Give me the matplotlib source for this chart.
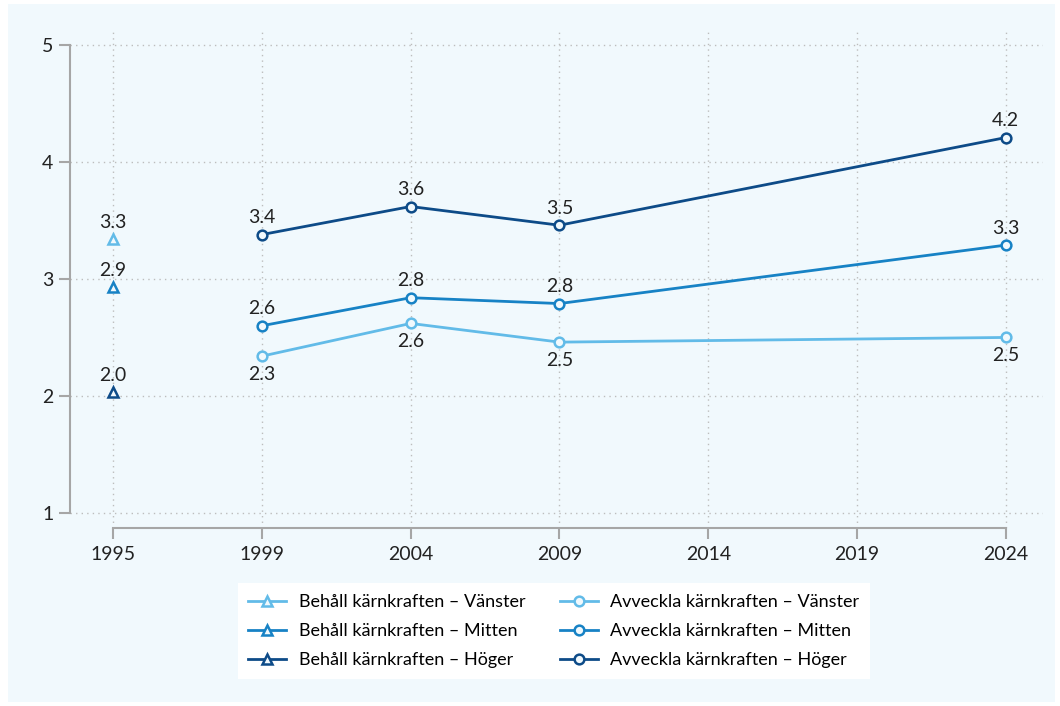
import matplotlib
matplotlib.use("Agg")
import matplotlib.pyplot as plt
from matplotlib.patches import Rectangle

years = ["1995", "1999", "2004", "2009", "2014", "2019", "2024"]

# Behåll kärnkraften: only 1995
keep_pos = [0]
keep_vanster = [3.34]
keep_mitten = [2.93]
keep_hoger = [2.03]

# Avveckla kärnkraften: 1999, 2004, 2009, 2024
phase_pos = [1, 2, 3, 6]
phase_vanster = [2.34, 2.62, 2.46, 2.50]
phase_mitten = [2.60, 2.84, 2.79, 3.29]
phase_hoger = [3.38, 3.62, 3.46, 4.21]

C_V = "#62bbe8"
C_M = "#1782c5"
C_H = "#0d4b88"
BG = "#f1f9fd"

plt.rcParams["font.family"] = ["Lato", "DejaVu Sans"]
FS = 14

fig = plt.figure(figsize=(10.6, 7.06), dpi=100, facecolor="white")
fig.patches.append(Rectangle((8 / 1060, 4 / 706), 1047 / 1060, 698 / 706,
                             transform=fig.transFigure, facecolor=BG,
                             edgecolor="none", zorder=-10))
ax = fig.add_axes([70 / 1060, 1 - 528 / 706, 973 / 1060, 498 / 706])
ax.set_facecolor("none")

series = [
    (keep_pos, keep_vanster, C_V, "^", "Behåll kärnkraften – Vänster", "above"),
    (keep_pos, keep_mitten, C_M, "^", "Behåll kärnkraften – Mitten", "above"),
    (keep_pos, keep_hoger, C_H, "^", "Behåll kärnkraften – Höger", "above"),
    (phase_pos, phase_vanster, C_V, "o", "Avveckla kärnkraften – Vänster", "below"),
    (phase_pos, phase_mitten, C_M, "o", "Avveckla kärnkraften – Mitten", "above"),
    (phase_pos, phase_hoger, C_H, "o", "Avveckla kärnkraften – Höger", "above"),
]

for xs, ys, col, mk, lab, where in series:
    ax.plot(xs, ys, color=col, lw=2.0, marker=mk, ms=7 if mk == "o" else 7.5,
            mfc=BG, mec=col, mew=1.8, label=lab, zorder=3)
    for x, y in zip(xs, ys):
        dy = 6 if where == "above" else -7
        ax.annotate(f"{y:.1f}", (x, y), xytext=(0, dy), textcoords="offset points",
                    ha="center", va="bottom" if where == "above" else "top",
                    fontsize=FS, color="#222222")

ax.set_xlim(-0.29, 6.25)
ax.set_ylim(0.87, 5.13)
ax.set_xticks(range(len(years)))
ax.set_xticklabels(years)
ax.set_yticks([1, 2, 3, 4, 5])
ax.grid(True, color="#bdbdbd", linestyle=(0, (1, 3)), linewidth=1)
ax.set_axisbelow(True)

for s in ("top", "right"):
    ax.spines[s].set_visible(False)
ax.spines["left"].set_bounds(1, 5)
ax.spines["bottom"].set_bounds(0, 6)
for s in ("left", "bottom"):
    ax.spines[s].set_color("#a6a6a6")
    ax.spines[s].set_linewidth(1.5)
ax.tick_params(axis="both", colors="#a6a6a6", length=8, width=1.5,
               labelcolor="#222222", labelsize=FS)
ax.tick_params(axis="x", pad=5)
ax.tick_params(axis="y", pad=4)

leg = fig.legend(loc="upper center", bbox_to_anchor=(554 / 1060, 1 - 574 / 706),
                 ncol=2, frameon=True, fancybox=False, fontsize=13,
                 handlelength=2.1, columnspacing=1.9, labelspacing=0.72,
                 borderpad=0.6, handletextpad=0.7, framealpha=1)
leg.get_frame().set_facecolor("white")
leg.get_frame().set_edgecolor("none")

fig.savefig("out.png", dpi=100, facecolor="white")
